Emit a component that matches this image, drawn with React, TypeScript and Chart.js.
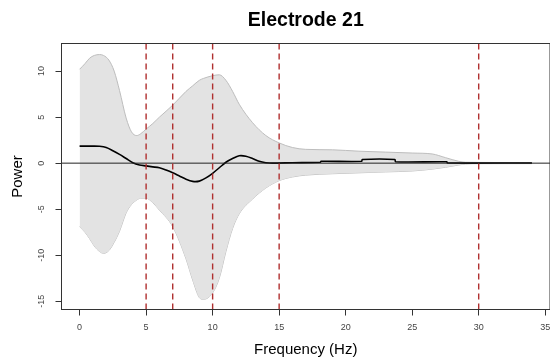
import { useEffect, useRef } from 'react';
import { Chart, registerables } from 'chart.js';

Chart.register(...registerables);

const titleText = 'Electrode 21';
const xTitle = 'Frequency (Hz)';
const yTitle = 'Power';

const bandFreq = [0, 0.4, 0.75, 1.1, 1.5, 1.8, 2.2, 2.6, 3, 3.5, 3.9, 4.3, 4.6, 5, 5.5, 6, 7, 8, 8.5, 9, 9.3, 10, 10.5, 11, 11.5, 12, 13, 14, 15, 16, 17, 19, 21, 23, 25, 26.5, 27.5, 28.5, 29, 30, 34];
const upperPower = [10.2, 10.8, 11.4, 11.7, 11.8, 11.7, 11.2, 10.0, 7.9, 4.9, 3.4, 3.0, 3.2, 3.7, 4.3, 5.0, 6.3, 7.8, 8.4, 9.0, 9.2, 9.5, 9.6, 9.0, 7.8, 6.4, 4.4, 3.0, 2.2, 1.7, 1.5, 1.45, 1.3, 1.2, 1.1, 1.0, 0.6, 0.2, 0.1, 0.08, 0.05];
const lowerPower = [-6.9, -7.5, -8.2, -9.0, -9.6, -9.8, -9.5, -8.6, -7.4, -5.4, -4.5, -4.0, -3.8, -3.8, -4.3, -5.1, -6.9, -10.4, -12.7, -14.6, -14.8, -14.1, -12.5, -9.6, -7.1, -5.5, -3.9, -2.7, -1.9, -1.5, -1.3, -1.15, -1.05, -0.95, -0.85, -0.65, -0.45, -0.2, -0.1, -0.06, -0.05];

const meanFreq = [0, 0.5, 1, 1.5, 2, 2.5, 3, 3.5, 4, 4.5, 5, 5.5, 6, 6.5, 7, 7.5, 8, 8.5, 9, 9.5, 10, 10.5, 11, 11.5, 12, 12.5, 13, 13.5, 14, 14.5, 16, 18.1, 18.15, 21.2, 21.25, 23.7, 23.75, 27.6, 27.65, 34];
const meanPower = [1.85, 1.85, 1.85, 1.83, 1.7, 1.35, 0.95, 0.5, 0.05, -0.2, -0.3, -0.4, -0.5, -0.75, -1.05, -1.4, -1.75, -1.98, -1.95, -1.6, -1.1, -0.5, 0.1, 0.5, 0.8, 0.75, 0.5, 0.2, 0.05, 0.0, 0.05, 0.1, 0.2, 0.2, 0.4, 0.4, 0.15, 0.15, 0.02, 0.02];

const xTicks = [0, 5, 10, 15, 20, 25, 30, 35];
const yTicks = [-15, -10, -5, 0, 5, 10];
const markerFreqs = [5, 7, 10, 15, 30];
const zeroLevel = 0;

const FONT = '"Liberation Sans", Arial, sans-serif';

const overlayPlugin = {
  id: 'overlay',
  afterDatasetsDraw(chart: any) {
    const { ctx, chartArea: a, scales } = chart;
    const x = scales.x;
    const y = scales.y;
    ctx.save();
    const y0 = y.getPixelForValue(zeroLevel);
    ctx.strokeStyle = '#222';
    ctx.lineWidth = 1;
    ctx.beginPath();
    ctx.moveTo(a.left, y0);
    ctx.lineTo(a.right, y0);
    ctx.stroke();
    ctx.strokeStyle = 'rgb(176,48,48)';
    ctx.lineWidth = 1.4;
    ctx.setLineDash([6, 4]);
    for (const f of markerFreqs) {
      const px = x.getPixelForValue(f);
      ctx.beginPath();
      ctx.moveTo(px, a.top);
      ctx.lineTo(px, a.bottom);
      ctx.stroke();
    }
    ctx.setLineDash([]);
    ctx.strokeStyle = '#333';
    ctx.lineWidth = 1;
    ctx.strokeRect(a.left, a.top, a.right - a.left, a.bottom - a.top);
    ctx.font = `9px ${FONT}`;
    ctx.fillStyle = '#444';
    ctx.textAlign = 'center';
    ctx.textBaseline = 'middle';
    for (const v of yTicks) {
      const py = y.getPixelForValue(v);
      ctx.save();
      ctx.translate(42, py);
      ctx.rotate(-Math.PI / 2);
      ctx.fillText(String(v), 0, 0);
      ctx.restore();
    }
    ctx.restore();
  },
};

export default function App() {
  const ref = useRef<HTMLCanvasElement>(null);
  useEffect(() => {
    document.body.style.margin = '0';
    const canvas = ref.current;
    if (!canvas) return;
    const upper = bandFreq.map((f, i) => ({ x: f, y: upperPower[i] }));
    const lower = bandFreq.map((f, i) => ({ x: f, y: lowerPower[i] }));
    const mean = meanFreq.map((f, i) => ({ x: f, y: meanPower[i] }));
    const chart = new Chart(canvas, {
      type: 'line',
      data: {
        datasets: [
          {
            label: 'mean',
            data: mean,
            borderColor: '#000',
            borderWidth: 1.6,
            pointRadius: 0,
            tension: 0.3,
            fill: false,
          },
          {
            label: 'upper',
            data: upper,
            borderColor: '#bdbdbd',
            borderWidth: 1,
            backgroundColor: '#e3e3e3',
            pointRadius: 0,
            cubicInterpolationMode: 'monotone',
            fill: '+1',
          },
          {
            label: 'lower',
            data: lower,
            borderColor: '#bdbdbd',
            borderWidth: 1,
            pointRadius: 0,
            cubicInterpolationMode: 'monotone',
            fill: false,
          },
        ],
      },
      options: {
        responsive: false,
        animation: false,
        layout: { padding: 0 },
        plugins: {
          legend: { display: false },
          tooltip: { enabled: false },
          title: {
            display: true,
            text: titleText,
            fullSize: false,
            color: '#000',
            font: { family: FONT, size: 19.5, weight: 'bold', lineHeight: 1.2 },
            padding: { top: 9, bottom: 11.1 },
          },
        },
        scales: {
          x: {
            type: 'linear',
            min: -1.36,
            max: 35.36,
            afterBuildTicks: (s: any) => {
              s.ticks = xTicks.map((v) => ({ value: v }));
            },
            afterFit: (s: any) => {
              s.height = 52.5;
              s.paddingLeft = 0;
              s.paddingRight = 0;
            },
            ticks: {
              font: { family: FONT, size: 9 },
              color: '#444',
              padding: 7,
              maxRotation: 0,
              autoSkip: false,
              callback: (v: any) => String(v),
            },
            grid: { drawOnChartArea: false, drawTicks: true, tickLength: 6, color: '#333' },
            border: { display: true, color: '#333' },
            title: {
              display: true,
              text: xTitle,
              color: '#000',
              font: { family: FONT, size: 15, lineHeight: 1.2 },
              padding: { top: 0, bottom: 3 },
            },
          },
          y: {
            type: 'linear',
            min: -15.9,
            max: 13.0,
            afterBuildTicks: (s: any) => {
              s.ticks = yTicks.map((v) => ({ value: v }));
            },
            afterFit: (s: any) => {
              s.width = 61.5;
              s.paddingTop = 0;
              s.paddingBottom = 0;
            },
            ticks: { display: false },
            grid: { drawOnChartArea: false, drawTicks: true, tickLength: 6, color: '#333' },
            border: { display: true, color: '#333' },
            title: {
              display: true,
              text: yTitle,
              color: '#000',
              font: { family: FONT, size: 15, lineHeight: 1.2 },
              padding: { top: 9, bottom: 0 },
            },
          },
        },
      },
      plugins: [overlayPlugin],
    } as any);
    return () => chart.destroy();
  }, []);
  return <canvas ref={ref} width={550} height={362} style={{ display: 'block' }} />;
}
